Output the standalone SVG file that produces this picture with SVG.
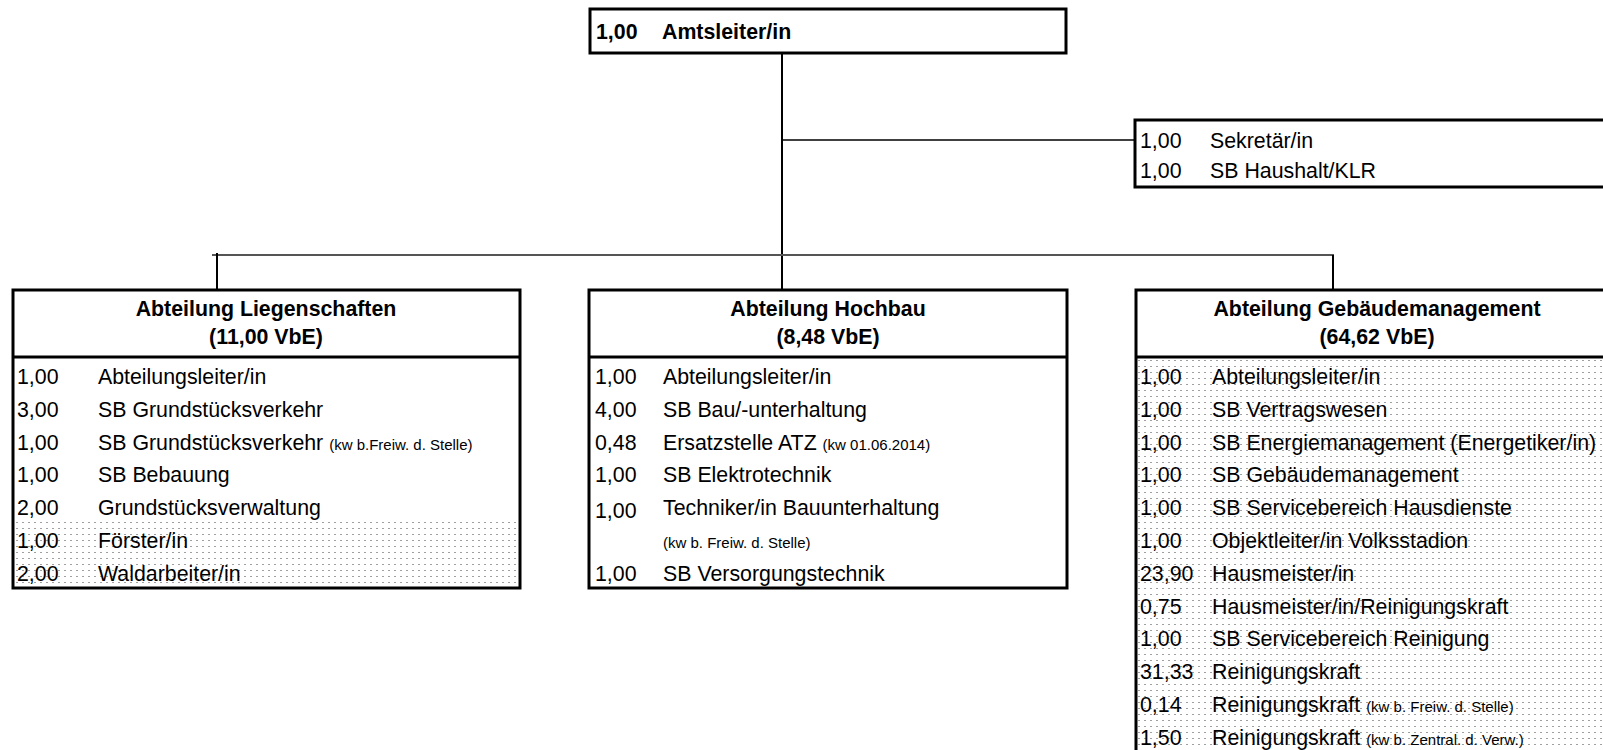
<svg xmlns="http://www.w3.org/2000/svg" width="1603" height="750" viewBox="0 0 1603 750">
<style>
.box{fill:#fff;stroke:#000;stroke-width:3}
.sep{stroke:#000;stroke-width:3}
.t{font-family:"Liberation Sans",Arial,sans-serif;font-size:21.33px;fill:#000}
.b{font-weight:bold}
.s{font-size:15px}
.c{text-anchor:middle}
.conn{stroke:#000;stroke-width:2;fill:none}
.hl{stroke:#555;stroke-width:2;fill:none}
</style>
<defs>
<pattern id="dots" patternUnits="userSpaceOnUse" x="4" y="0" width="6" height="6">
<rect x="0" y="0" width="2" height="1" fill="#a0a0a0"/>
</pattern>
</defs>
<rect width="1603" height="750" fill="#fff"/>
<g id="connectors">
<line class="conn" x1="782" y1="53" x2="782" y2="290"/>
<line class="conn" x1="782" y1="140" x2="1135" y2="140" style="stroke-width:1.5"/>
<line class="hl" x1="212" y1="255" x2="1334" y2="255"/>
<line class="conn" x1="217" y1="253" x2="217" y2="290"/>
<line class="conn" x1="1333" y1="255" x2="1333" y2="290"/>
</g>
<g id="amtsleiter">
<rect class="box" x="590" y="9" width="476" height="44"/>
<text class="t b" x="596" y="39">1,00</text>
<text class="t b" x="662" y="39">Amtsleiter/in</text>
</g>
<g id="sekretariat">
<rect class="box" x="1135" y="120" width="490" height="67"/>
<text class="t" x="1140" y="148">1,00</text>
<text class="t" x="1210" y="148">Sekretär/in</text>
<text class="t" x="1140" y="178">1,00</text>
<text class="t" x="1210" y="178">SB Haushalt/KLR</text>
</g>
<g id="liegenschaften">
<rect class="box" x="13" y="290" width="507" height="298"/>
<rect x="15" y="521" width="503" height="65" fill="url(#dots)"/>
<line class="sep" x1="13" y1="357" x2="520" y2="357"/>
<text class="t b c" x="266" y="316">Abteilung Liegenschaften</text>
<text class="t b c" x="266" y="344">(11,00 VbE)</text>
<text class="t" x="17" y="384">1,00</text><text class="t" x="98" y="384">Abteilungsleiter/in</text>
<text class="t" x="17" y="417">3,00</text><text class="t" x="98" y="417">SB Grundstücksverkehr</text>
<text class="t" x="17" y="450">1,00</text><text class="t" x="98" y="450">SB Grundstücksverkehr <tspan class="s">(kw b.Freiw. d. Stelle)</tspan></text>
<text class="t" x="17" y="482">1,00</text><text class="t" x="98" y="482">SB Bebauung</text>
<text class="t" x="17" y="515">2,00</text><text class="t" x="98" y="515">Grundstücksverwaltung</text>
<text class="t" x="17" y="548">1,00</text><text class="t" x="98" y="548">Förster/in</text>
<text class="t" x="17" y="581">2,00</text><text class="t" x="98" y="581">Waldarbeiter/in</text>
</g>
<g id="hochbau">
<rect class="box" x="589" y="290" width="478" height="298"/>
<line class="sep" x1="589" y1="357" x2="1067" y2="357"/>
<text class="t b c" x="828" y="316">Abteilung Hochbau</text>
<text class="t b c" x="828" y="344">(8,48 VbE)</text>
<text class="t" x="595" y="384">1,00</text><text class="t" x="663" y="384">Abteilungsleiter/in</text>
<text class="t" x="595" y="417">4,00</text><text class="t" x="663" y="417">SB Bau/-unterhaltung</text>
<text class="t" x="595" y="450">0,48</text><text class="t" x="663" y="450">Ersatzstelle ATZ <tspan class="s">(kw 01.06.2014)</tspan></text>
<text class="t" x="595" y="482">1,00</text><text class="t" x="663" y="482">SB Elektrotechnik</text>
<text class="t" x="595" y="518">1,00</text><text class="t" x="663" y="515">Techniker/in Bauunterhaltung</text>
<text class="t s" x="663" y="548">(kw b. Freiw. d. Stelle)</text>
<text class="t" x="595" y="581">1,00</text><text class="t" x="663" y="581">SB Versorgungstechnik</text>
</g>
<g id="gebaeudemanagement">
<rect class="box" x="1136" y="290" width="490" height="480"/>
<rect x="1138" y="359" width="470" height="395" fill="url(#dots)"/>
<line class="sep" x1="1136" y1="357" x2="1610" y2="357"/>
<text class="t b c" x="1377" y="316">Abteilung Gebäudemanagement</text>
<text class="t b c" x="1377" y="344">(64,62 VbE)</text>
<text class="t" x="1140" y="384">1,00</text><text class="t" x="1212" y="384">Abteilungsleiter/in</text>
<text class="t" x="1140" y="417">1,00</text><text class="t" x="1212" y="417">SB Vertragswesen</text>
<text class="t" x="1140" y="450">1,00</text><text class="t" x="1212" y="450">SB Energiemanagement (Energetiker/in)</text>
<text class="t" x="1140" y="482">1,00</text><text class="t" x="1212" y="482">SB Gebäudemanagement</text>
<text class="t" x="1140" y="515">1,00</text><text class="t" x="1212" y="515">SB Servicebereich Hausdienste</text>
<text class="t" x="1140" y="548">1,00</text><text class="t" x="1212" y="548">Objektleiter/in Volksstadion</text>
<text class="t" x="1140" y="581">23,90</text><text class="t" x="1212" y="581">Hausmeister/in</text>
<text class="t" x="1140" y="614">0,75</text><text class="t" x="1212" y="614">Hausmeister/in/Reinigungskraft</text>
<text class="t" x="1140" y="646">1,00</text><text class="t" x="1212" y="646">SB Servicebereich Reinigung</text>
<text class="t" x="1140" y="679">31,33</text><text class="t" x="1212" y="679">Reinigungskraft</text>
<text class="t" x="1140" y="712">0,14</text><text class="t" x="1212" y="712">Reinigungskraft <tspan class="s">(kw b. Freiw. d. Stelle)</tspan></text>
<text class="t" x="1140" y="745">1,50</text><text class="t" x="1212" y="745">Reinigungskraft <tspan class="s">(kw b. Zentral. d. Verw.)</tspan></text>
</g>
</svg>
